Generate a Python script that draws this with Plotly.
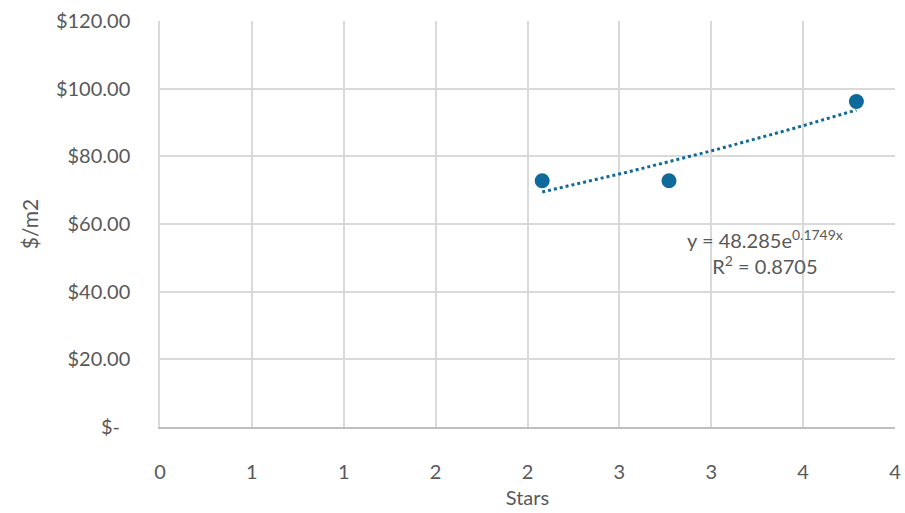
import numpy as np
import plotly.graph_objects as go

stars = [2.08, 2.77, 3.79]
price = [72.8, 72.8, 96.2]
trend_a = 48.285
trend_b = 0.1749
r2 = 0.8705
x_tickvals = [0, 0.5, 1, 1.5, 2, 2.5, 3, 3.5, 4]
x_ticktext = ["0", "1", "1", "2", "2", "3", "3", "4", "4"]
y_tickvals = [0, 20, 40, 60, 80, 100, 120]
y_ticktext = ["$-\u00a0\u00a0", "$20.00", "$40.00", "$60.00", "$80.00", "$100.00", "$120.00"]

color = "#0f6a9c"
font = "Lato, Carlito, 'Open Sans', sans-serif"
grey = "#595959"

tx = np.linspace(min(stars), max(stars), 60)
ty = trend_a * np.exp(trend_b * tx)

fig = go.Figure()
fig.add_trace(go.Scatter(x=tx, y=ty, mode="lines",
                         line=dict(color=color, width=3, dash="dot"),
                         hoverinfo="skip", showlegend=False))
fig.add_trace(go.Scatter(x=stars, y=price, mode="markers",
                         marker=dict(color=color, size=15),
                         showlegend=False))

fig.add_annotation(x=0.823, y=0.43, xref="paper", yref="paper",
                   xanchor="center", yanchor="middle",
                   text=f"y = {trend_a}e<sup>{trend_b}x</sup><br>R<sup>2</sup> = {r2}",
                   showarrow=False, align="center",
                   font=dict(family=font, size=20, color=grey))

fig.update_layout(
    width=905, height=513,
    margin=dict(l=160, r=10, t=21, b=86, autoexpand=False),
    paper_bgcolor="white", plot_bgcolor="white",
    font=dict(family=font, color=grey, size=20),
    xaxis=dict(range=[0, 4], tickvals=x_tickvals, ticktext=x_ticktext,
               showgrid=True, gridcolor="#d9d9d9", gridwidth=1.5,
               zeroline=False, showline=True, linecolor="#bfbfbf", linewidth=1.5,
               ticks="", ticklabelstandoff=26, automargin=False,
               tickfont=dict(size=20, color=grey),
               title=dict(text="Stars", font=dict(size=20, color=grey), standoff=9)),
    yaxis=dict(range=[0, 120], tickvals=y_tickvals, ticktext=y_ticktext,
               showgrid=True, gridcolor="#d9d9d9", gridwidth=1.5,
               zeroline=False, showline=True, linecolor="#d9d9d9", linewidth=1.5,
               ticks="", ticklabelstandoff=24, automargin=False,
               tickfont=dict(size=20, color=grey),
               title=dict(text="$/m2", font=dict(size=21, color=grey), standoff=12)),
)
fig.write_html("out.html", config={"displayModeBar": False},
               post_script="document.body.style.margin='0';")
